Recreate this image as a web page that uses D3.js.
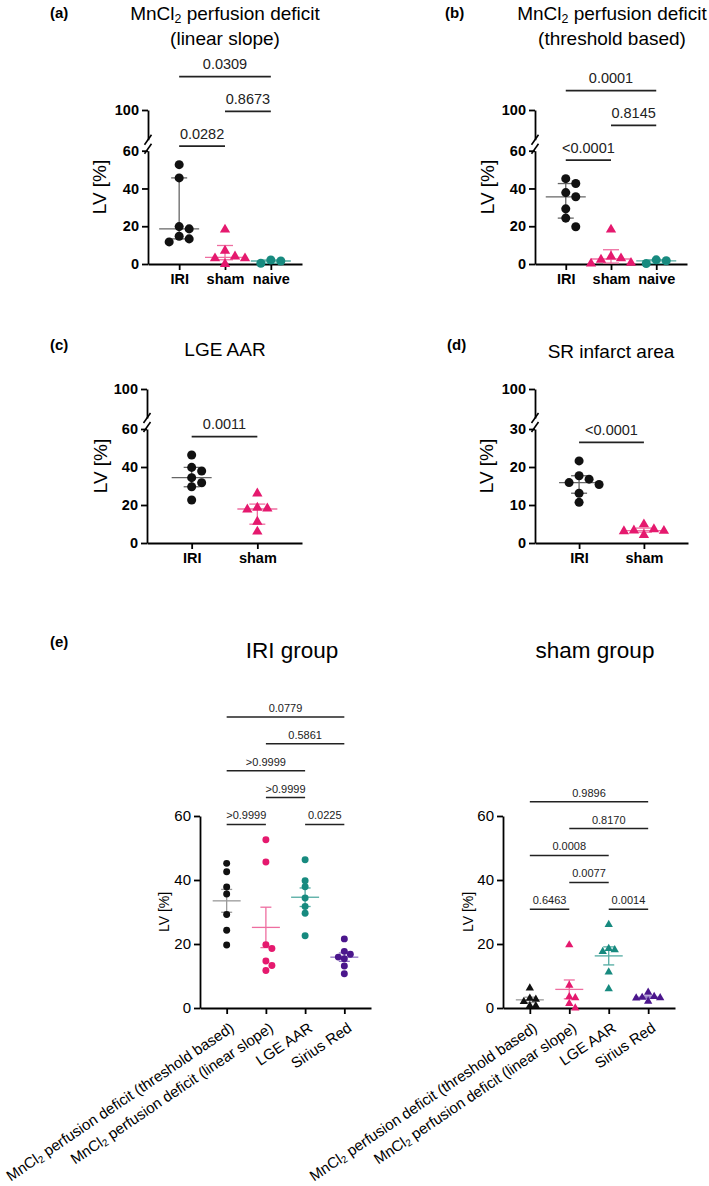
<!DOCTYPE html>
<html>
<head>
<meta charset="utf-8">
<script src="https://cdn.jsdelivr.net/npm/d3@7"></script>
<style>
  body { margin: 0; background: #fff; }
  svg { font-family: "Liberation Sans", Arial, sans-serif; }
</style>
</head>
<body>
<script>
// ---- data (LV %) ----
const groupsABC = ['IRI', 'sham', 'naive'];
const groupsCD = ['IRI', 'sham'];
const methods = ['MnCl2 perfusion deficit (threshold based)', 'MnCl2 perfusion deficit (linear slope)', 'LGE AAR', 'Sirius Red'];

const iriLinear = [52.6, 45.6, 19.8, 18.6, 14.7, 13.3, 11.7];
const shamLinear = [18.2, 7.0, 4.0, 3.0, 3.0, 0.0];
const naiveLinear = [0.4, 2.1, 1.6];

const iriThreshold = [45.2, 42.6, 37.8, 35.6, 29.2, 24.3, 19.7];
const shamThreshold = [18.2, 4.0, 3.0, 2.3, 0.6, 0.2];
const naiveThreshold = [0.3, 2.2, 1.7];

const iriLge = [46.3, 39.8, 37.9, 34.4, 31.7, 29.6, 22.6];
const shamLge = [26.1, 18.6, 18.2, 17.6, 11.2, 6.0];

const iriSr = [21.6, 17.7, 16.8, 15.9, 15.4, 13.1, 10.7];
const shamSr = [4.9, 3.6, 3.3, 3.2, 3.1, 2.1];

// sham values as plotted in panel (e)
const eShamThreshold = [6.2, 3.0, 2.7, 2.0, 0.7, 0.7];
const eShamLinear = [19.7, 7.1, 3.5, 3.2, 1.4, 0.0];

// p values: [from, to, label]
const pA = [['IRI', 'sham', '0.0282'], ['sham', 'naive', '0.8673'], ['IRI', 'naive', '0.0309']];
const pB = [['IRI', 'sham', '<0.0001'], ['sham', 'naive', '0.8145'], ['IRI', 'naive', '0.0001']];
const pC = [['IRI', 'sham', '0.0011']];
const pD = [['IRI', 'sham', '<0.0001']];
const pEIri = [[0, 1, '>0.9999'], [2, 3, '0.0225'], [1, 2, '>0.9999'], [0, 2, '>0.9999'], [1, 3, '0.5861'], [0, 3, '0.0779']];
const pESham = [[0, 1, '0.6463'], [2, 3, '0.0014'], [1, 2, '0.0077'], [0, 2, '0.0008'], [1, 3, '0.8170'], [0, 3, '0.9896']];

const ticks60 = [0, 20, 40, 60];
const ticks30 = [0, 10, 20, 30];

// colours
const cBlack = '#111', cPink = '#e5196e', cTeal = '#178a7f', cPurple = '#4b168c';
const lBlack = '#666', lPink = '#ee6ea0', lTeal = '#52aba1', lPurple = '#8f73c2';

const svg = d3.select('body').append('svg')
    .attr('width', 709)
    .attr('height', 1186);

// MnCl2 -> MnCl with subscript 2
function richText(sel, str) {
    const parts = str.split('MnCl2');
    parts.forEach((p, i) => {
        if (i > 0) {
            sel.append('tspan').text('MnCl');
            sel.append('tspan').attr('baseline-shift', '-0.22em').attr('font-size', '65%').text('2');
        }
        if (p) sel.append('tspan').text(p);
    });
}

// quartiles the way Prism does it, (n+1)p
function quantile(sorted, p) {
    const n = sorted.length;
    const h = (n + 1) * p;
    if (h <= 1) return sorted[0];
    if (h >= n) return sorted[n - 1];
    const lo = Math.floor(h);
    return sorted[lo - 1] + (h - lo) * (sorted[lo] - sorted[lo - 1]);
}

function summary(values, stat) {
    const s = values.slice().sort(d3.ascending);
    if (stat === 'median') {
        return {mid: quantile(s, 0.5), lo: quantile(s, 0.25), hi: quantile(s, 0.75)};
    }
    const m = d3.mean(s);
    const se = d3.deviation(s) / Math.sqrt(s.length);
    return {mid: m, lo: m - se, hi: m + se};
}

// scatter: go from the top value down, push a point sideways if it would overlap
function spread(values, y, step, minDist) {
    const placed = [];
    const order = values.map((v, i) => i).sort((a, b) => values[b] - values[a]);
    const slots = [0, 1, -1, 2, -2, 3, -3];
    order.forEach(i => {
        const py = y(values[i]);
        for (const k of slots) {
            const px = k * step;
            if (placed.every(p => Math.hypot(p.x - px, p.y - py) >= minDist)) {
                placed.push({x: px, y: py});
                break;
            }
        }
    });
    return placed;
}

// stack brackets: shortest first, lowest free level
function bracketLevels(list, idx) {
    const items = list.map((b, i) => {
        const a = idx(b[0]), c = idx(b[1]);
        return {i, a: Math.min(a, c), c: Math.max(a, c), label: b[2]};
    }).sort((p, q) => (p.c - p.a) - (q.c - q.a) || p.a - q.a);
    const done = [];
    items.forEach(it => {
        let lv = 0;
        while (done.some(d => d.level === lv && d.a <= it.c && it.a <= d.c)) lv++;
        it.level = lv;
        done.push(it);
    });
    return items;
}

function drawPanel(cfg) {
    const g = svg.append('g');
    const x = d3.scalePoint().domain(cfg.cats).range([cfg.left, cfg.right]).padding(0.68);
    const y = d3.scaleLinear().domain([0, cfg.lowMax]).range([cfg.bottom, cfg.lowTop]);

    // y axis (lower part)
    g.append('g')
        .attr('transform', `translate(${cfg.left},0)`)
        .call(d3.axisLeft(y).tickValues(cfg.ticks).tickSize(6).tickSizeOuter(0).tickPadding(3));

    // y axis upper part + break marks
    if (cfg.top !== undefined) {
        const yUp = d3.scaleLinear().domain([90, 100]).range([cfg.lowTop - 11, cfg.top]);
        g.append('g')
            .attr('transform', `translate(${cfg.left},0)`)
            .call(d3.axisLeft(yUp).tickValues([100]).tickSize(6).tickSizeOuter(0).tickPadding(3));
        [-11, -2].forEach(dy => {
            g.append('line')
                .attr('x1', cfg.left - 3.5).attr('y1', cfg.lowTop + dy + 5)
                .attr('x2', cfg.left + 3.5).attr('y2', cfg.lowTop + dy - 5)
                .attr('stroke', '#000').attr('stroke-width', 1.6);
        });
    }

    // x axis
    const xa = g.append('g')
        .attr('transform', `translate(0,${cfg.bottom})`)
        .call(d3.axisBottom(x).tickSize(6).tickSizeOuter(0).tickPadding(4));

    g.selectAll('.domain, .tick line').attr('stroke', '#000').attr('stroke-width', 1.8);
    g.selectAll('.tick text')
        .attr('fill', '#000')
        .attr('font-family', 'Liberation Sans, Arial, sans-serif')
        .attr('font-size', cfg.tickFont)
        .attr('font-weight', cfg.tickBold ? 'bold' : 'normal');

    if (cfg.rotateLabels) {
        xa.selectAll('.tick text')
            .text(null)
            .attr('text-anchor', 'end')
            .attr('y', 0)
            .attr('dy', '0.35em')
            .attr('font-size', 15)
            .attr('transform', 'translate(5,18) rotate(-34)')
            .each(function (d) { richText(d3.select(this), d); });
    }

    // y title
    g.append('text')
        .attr('transform', `translate(${cfg.yTitleX},${(cfg.bottom + (cfg.top !== undefined ? cfg.top : cfg.lowTop)) / 2}) rotate(-90)`)
        .attr('text-anchor', 'middle')
        .attr('dy', '0.35em')
        .attr('font-size', cfg.yTitleFont)
        .text('LV [%]');

    // series: error bars then markers
    cfg.series.forEach((s, i) => {
        const cx = x(cfg.cats[i]);
        const st = summary(s.values, cfg.stat);
        const eb = g.append('g').attr('stroke', s.line).attr('stroke-width', 1.3);
        eb.append('line').attr('x1', cx).attr('x2', cx).attr('y1', y(st.lo)).attr('y2', y(st.hi));
        [st.lo, st.hi].forEach(v => {
            eb.append('line').attr('x1', cx - cfg.capW).attr('x2', cx + cfg.capW).attr('y1', y(v)).attr('y2', y(v));
        });
        eb.append('line').attr('x1', cx - cfg.midW).attr('x2', cx + cfg.midW).attr('y1', y(st.mid)).attr('y2', y(st.mid));

        const pts = spread(s.values, y, cfg.step, cfg.minDist);
        const shape = s.shape === 'triangle' ? d3.symbolTriangle : d3.symbolCircle;
        const size = s.shape === 'triangle' ? cfg.triSize : cfg.dotSize;
        g.append('g').selectAll('path')
            .data(pts)
            .join('path')
            .attr('d', d3.symbol(shape, size))
            .attr('transform', d => `translate(${cx + d.x},${d.y})`)
            .attr('fill', s.color);
    });

    // significance brackets
    const maxV = d3.max(cfg.series, s => d3.max(s.values));
    const base = y(maxV) - cfg.bOffset;
    const by = d3.scaleLinear().domain([0, 1]).range([base, base - cfg.bStep]);
    const idx = c => (typeof c === 'number' ? c : cfg.cats.indexOf(c));
    bracketLevels(cfg.brackets, idx).forEach(b => {
        const x1 = x(cfg.cats[b.a]), x2 = x(cfg.cats[b.c]), yy = by(b.level);
        g.append('line').attr('x1', x1).attr('x2', x2).attr('y1', yy).attr('y2', yy)
            .attr('stroke', '#222').attr('stroke-width', cfg.bWidth);
        g.append('text').attr('x', (x1 + x2) / 2).attr('y', yy - cfg.bGap)
            .attr('text-anchor', 'middle').attr('font-size', cfg.pFont).attr('fill', '#222')
            .text(b.label);
    });

    // titles
    cfg.title.forEach((t, k) => {
        const tt = g.append('text').attr('x', cfg.titleX).attr('y', cfg.titleY[k])
            .attr('text-anchor', 'middle').attr('font-size', cfg.titleFont);
        richText(tt, t);
    });
    if (cfg.tag) {
        g.append('text').attr('x', cfg.tag[0]).attr('y', cfg.tag[1])
            .attr('font-size', 15).attr('font-weight', 'bold').text(cfg.tag[2]);
    }
}

const smallStyle = {
    lowMax: 60, ticks: ticks60, tickFont: 14.5, tickBold: true, yTitleFont: 19,
    stat: 'median', capW: 8, midW: 20, step: 10, minDist: 9, dotSize: 64, triSize: 46,
    bOffset: 18.5, bStep: 34.8, bWidth: 1.8, bGap: 7.5, pFont: 14.5, titleFont: 19
};

drawPanel(Object.assign({}, smallStyle, {
    cats: groupsABC, left: 148, right: 302, bottom: 264, lowTop: 150.7, top: 110, yTitleX: 99,
    series: [
        {values: iriLinear, color: cBlack, line: lBlack, shape: 'circle'},
        {values: shamLinear, color: cPink, line: lPink, shape: 'triangle'},
        {values: naiveLinear, color: cTeal, line: lTeal, shape: 'circle'}
    ],
    brackets: pA,
    title: ['MnCl2 perfusion deficit', '(linear slope)'], titleX: 225, titleY: [19.5, 44.5],
    tag: [50, 18, '(a)']
}));

drawPanel(Object.assign({}, smallStyle, {
    cats: groupsABC, left: 535, right: 687, bottom: 264, lowTop: 150.7, top: 110, yTitleX: 487,
    series: [
        {values: iriThreshold, color: cBlack, line: lBlack, shape: 'circle'},
        {values: shamThreshold, color: cPink, line: lPink, shape: 'triangle'},
        {values: naiveThreshold, color: cTeal, line: lTeal, shape: 'circle'}
    ],
    brackets: pB,
    title: ['MnCl2 perfusion deficit', '(threshold based)'], titleX: 612, titleY: [19.5, 44.5],
    tag: [445, 18, '(b)']
}));

drawPanel(Object.assign({}, smallStyle, {
    cats: groupsCD, left: 147, right: 302, bottom: 543, lowTop: 429, top: 389, yTitleX: 100,
    series: [
        {values: iriLge, color: cBlack, line: lBlack, shape: 'circle'},
        {values: shamLge, color: cPink, line: lPink, shape: 'triangle'}
    ],
    brackets: pC,
    title: ['LGE AAR'], titleX: 225, titleY: [356],
    tag: [50, 350, '(c)']
}));

drawPanel(Object.assign({}, smallStyle, {
    cats: groupsCD, left: 535, right: 688, bottom: 543, lowTop: 429, top: 389, yTitleX: 486,
    lowMax: 30, ticks: ticks30,
    series: [
        {values: iriSr, color: cBlack, line: lBlack, shape: 'circle'},
        {values: shamSr, color: cPink, line: lPink, shape: 'triangle'}
    ],
    brackets: pD,
    title: ['SR infarct area'], titleX: 611, titleY: [358],
    tag: [447, 350, '(d)']
}));

const bigStyle = {
    cats: methods, lowMax: 60, ticks: ticks60, tickFont: 15, tickBold: false, yTitleFont: 14,
    rotateLabels: true, bottom: 1008, lowTop: 816,
    stat: 'mean', capW: 5.5, midW: 14, step: 6, minDist: 6, dotSize: 38, triSize: 30,
    bOffset: 15.2, bStep: 26.9, bWidth: 1.5, bGap: 5, pFont: 11, titleFont: 22.5
};

drawPanel(Object.assign({}, bigStyle, {
    left: 200, right: 371, yTitleX: 164,
    series: [
        {values: iriThreshold, color: cBlack, line: '#9a9a9a', shape: 'circle'},
        {values: iriLinear, color: cPink, line: lPink, shape: 'circle'},
        {values: iriLge, color: cTeal, line: lTeal, shape: 'circle'},
        {values: iriSr, color: cPurple, line: lPurple, shape: 'circle'}
    ],
    brackets: pEIri,
    title: ['IRI group'], titleX: 292, titleY: [658],
    tag: [50, 647, '(e)']
}));

drawPanel(Object.assign({}, bigStyle, {
    left: 503, right: 675, yTitleX: 468,
    series: [
        {values: eShamThreshold, color: cBlack, line: '#9a9a9a', shape: 'triangle'},
        {values: eShamLinear, color: cPink, line: lPink, shape: 'triangle'},
        {values: shamLge, color: cTeal, line: lTeal, shape: 'triangle'},
        {values: shamSr, color: cPurple, line: lPurple, shape: 'triangle'}
    ],
    brackets: pESham,
    title: ['sham group'], titleX: 595, titleY: [658]
}));
</script>
</body>
</html>
